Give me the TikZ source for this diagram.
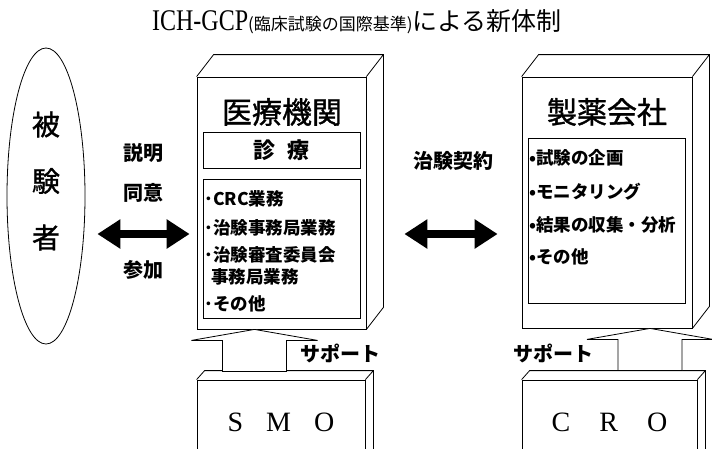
\documentclass[tikz,border=0pt]{standalone}
\usepackage{fontspec}
\setmainfont{Liberation Serif}
\newfontfamily\jp{Noto Sans CJK JP}
\newfontfamily\jpheavy[FakeBold=1.2]{Noto Sans CJK JP}
\newfontfamily\narrowserif[FakeStretch=0.8]{Liberation Serif}
\usetikzlibrary{arrows.meta,positioning,shapes.geometric,calc}

\begin{document}
\begin{tikzpicture}[x=1pt, y=-1pt, line width=0.8pt,
    every node/.style={inner sep=0pt},
    front/.style={draw, fill=white, rectangle},
    inbox/.style={draw, rectangle},
    lbl/.style={font=\jp\bfseries\fontsize{20}{24}\selectfont},
    item/.style={font=\jp\bfseries\fontsize{17.5}{22}\selectfont, anchor=west},
    head/.style={font=\jpheavy\fontsize{30}{36}\selectfont},
    abc/.style={font=\rmfamily\fontsize{28}{32}\selectfont},
    fat/.style={line width=8pt, {Triangle[length=23pt,width=28pt]}-{Triangle[length=23pt,width=28pt]}}]

    \useasboundingbox (0,0) rectangle (712,448);
    \clip (0,0) rectangle (712,448);

    % title
    \node (title) at (357,22) {{\narrowserif\fontsize{30}{32}\selectfont ICH-GCP}{\jp\fontsize{17}{20}\selectfont (臨床試験の国際基準)}{\jp\fontsize{25}{30}\selectfont による新体制}};

    % subject
    \node[draw, ellipse, minimum width=78pt, minimum height=296pt] (subj) at (46,196) {};
    \node[font=\jpheavy\fontsize{28}{56.5}\selectfont, align=center] (subjtxt) at (46,181) {被\\験\\者};

    % boxes
    \node[front, minimum width=169pt, minimum height=252pt] (iryo)    at (281.5,203)   {};
    \node[front, minimum width=170pt, minimum height=251pt] (seiyaku) at (607,202.5)   {};
    \node[front, minimum width=168pt, minimum height=80pt]  (smo)     at (281,420)     {};
    \node[front, minimum width=175pt, minimum height=80pt]  (cro)     at (609.5,420)   {};

    \foreach \n/\dx/\dy in {iryo/17/-22, seiyaku/17/-22, smo/8/-9, cro/8/-9}
        \draw (\n.north west) -- ++(\dx,\dy) -- ($(\n.north east)+(\dx,\dy)$)
              -- ($(\n.south east)+(\dx,\dy)$) -- (\n.south east)
              (\n.north east) -- ++(\dx,\dy);

    % medical institution
    \node[head] (iryoname) at (282,112) {医療機関};
    \node[inbox, minimum width=157pt, minimum height=36pt] (shinryo) at (281.5,150) {};
    \node[font=\jp\bfseries\fontsize{22}{26}\selectfont] at (shinryo) {診\hspace{12pt}療};
    \node[inbox, minimum width=157pt, minimum height=139pt] (iryolist) at (281.5,248.5) {};
    \node[item] (i1) at (204,199) {･CRC業務};
    \node[item] (i2) at (204,228) {･治験事務局業務};
    \node[item] (i3) at (204,255) {･治験審査委員会};
    \node[item] (i4) at (211,277) {事務局業務};
    \node[item] (i5) at (204,304) {･その他};

    % pharma company
    \node[head] (seiyakuname) at (607,112) {製薬会社};
    \node[inbox, minimum width=157pt, minimum height=165pt] (seiyakulist) at (606.5,220.5) {};
    \node[item] (s1) at (529,158) {•試験の企画};
    \node[item] (s2) at (529,192) {•モニタリング};
    \node[item] (s3) at (529,225) {•結果の収集・分析};
    \node[item] (s4) at (529,257) {•その他};

    % SMO / CRO
    \node[abc] at (smo.center |- 0,422) {S\hspace{23pt}M\hspace{23pt}O};
    \node[abc] at (cro.center |- 0,422) {C\hspace{29pt}R\hspace{29pt}O};

    % support arrows
    \coordinate (smotip) at ([xshift=-27pt]iryo.south);
    \coordinate (crotip) at ([xshift=43pt]seiyaku.south);
    \foreach \t in {smotip, crotip}
        \draw[fill=white] (\t) -- ++(63,11) -- ++(-31,0) -- ++(0,31) -- ++(-64,0)
              -- ++(0,-31) -- ++(-31,0) -- cycle;
    \node[lbl] (supp1) at (340,353) {サポート};
    \node[lbl] (supp2) at (553,353) {サポート};

    % explanation / contract
    \coordinate (row) at (0,234);
    \node[lbl] (expl)  at (143,153) {説明};
    \node[lbl] (agree) at (143,193) {同意};
    \node[lbl] (join)  at (143,270) {参加};
    \draw[fat] ([xshift=12pt]subj.east |- row) -- ([xshift=-7pt]iryo.west |- row);

    \node[lbl] (contract) at (453,161) {治験契約};
    \draw[fat] ([xshift=38pt]iryo.east |- row) -- ([xshift=-24pt]seiyaku.west |- row);

\end{tikzpicture}
\end{document}
